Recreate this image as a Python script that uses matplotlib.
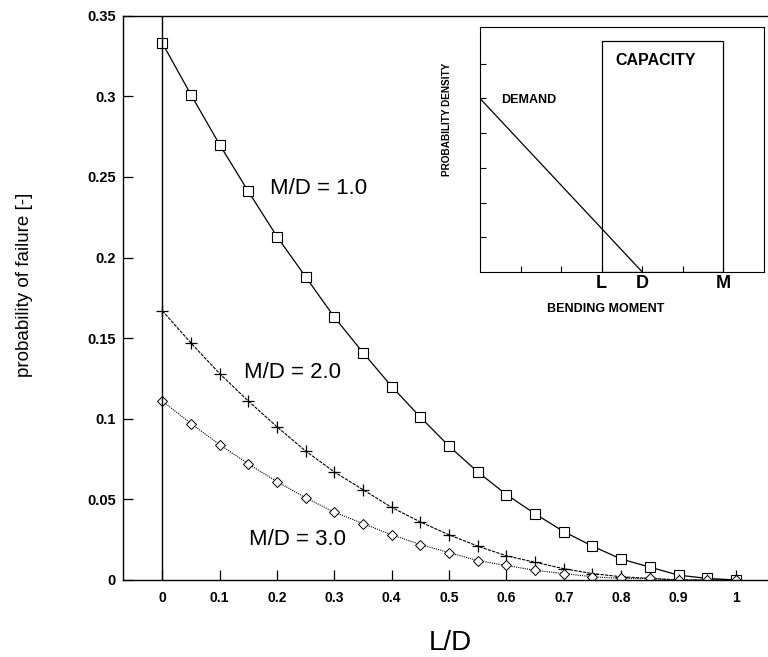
import matplotlib
matplotlib.use("Agg")
import matplotlib.pyplot as plt
from matplotlib.patches import Rectangle

plt.rcParams['font.family'] = ['Liberation Sans', 'DejaVu Sans']

# ---- data ----
ld = [0.0, 0.05, 0.1, 0.15, 0.2, 0.25, 0.3, 0.35, 0.4, 0.45, 0.5,
      0.55, 0.6, 0.65, 0.7, 0.75, 0.8, 0.85, 0.9, 0.95, 1.0]
pf_md1 = [0.333, 0.301, 0.270, 0.241, 0.213, 0.188, 0.163, 0.141, 0.120, 0.101, 0.083,
          0.067, 0.053, 0.041, 0.030, 0.021, 0.013, 0.008, 0.003, 0.001, 0.000]
pf_md2 = [0.167, 0.147, 0.128, 0.111, 0.095, 0.080, 0.067, 0.056, 0.045, 0.036, 0.028,
          0.021, 0.015, 0.011, 0.007, 0.004, 0.002, 0.001, 0.000, 0.000, 0.000]
pf_md3 = [0.111, 0.097, 0.084, 0.072, 0.061, 0.051, 0.042, 0.035, 0.028, 0.022, 0.017,
          0.012, 0.009, 0.006, 0.004, 0.002, 0.001, 0.001, 0.000, 0.000, 0.000]
series_labels = ["M/D = 1.0", "M/D = 2.0", "M/D = 3.0"]
label_pos = [(0.272, 0.243), (0.227, 0.129), (0.236, 0.025)]

xticks = [0, 0.1, 0.2, 0.3, 0.4, 0.5, 0.6, 0.7, 0.8, 0.9, 1]
xticklabels = ["0", "0.1", "0.2", "0.3", "0.4", "0.5", "0.6", "0.7", "0.8", "0.9", "1"]
yticks = [0, 0.05, 0.1, 0.15, 0.2, 0.25, 0.3, 0.35]
yticklabels = ["0", "0.05", "0.1", "0.15", "0.2", "0.25", "0.3", "0.35"]

# inset schematic
demand_x = [0, 4]
demand_y = [5, 0]
cap_left, cap_right, cap_height = 3, 6, 6.65
inset_ticks = [1, 2, 3, 4, 5, 6]
inset_ticklabels = ["", "", "L", "D", "", "M"]

fig = plt.figure(figsize=(7.68, 6.57), dpi=100)
ax = fig.add_axes([0.1602, 0.1172, 0.8398, 0.8588])

ax.plot(ld, pf_md1, '-', color='black', lw=0.9, marker='s', ms=6.5, mfc='white', mec='black', mew=0.8)
ax.plot(ld, pf_md2, linestyle=(0, (3, 1)), color='black', lw=0.8, marker='+', ms=8, mew=0.9)
ax.plot(ld, pf_md3, linestyle=(0, (1, 1)), color='black', lw=0.8, marker='D', ms=5, mfc='white', mec='black', mew=0.7)
ax.axvline(0, color='black', lw=1.0)

for txt, (tx, ty) in zip(series_labels, label_pos):
    ax.text(tx, ty, txt, fontsize=16, ha='center', va='center')

ax.set_xlim(-0.0685, 1.056)
ax.set_ylim(0, 0.35)
ax.set_xticks(xticks)
ax.set_xticklabels(xticklabels, fontweight='bold', fontsize=10)
ax.set_yticks(yticks)
ax.set_yticklabels(yticklabels, fontweight='bold', fontsize=10.5)
ax.tick_params(direction='in', length=7, width=0.9)
ax.tick_params(axis='x', pad=8)
ax.tick_params(axis='y', pad=5)
ax.spines['right'].set_visible(False)
for s in ['left', 'bottom', 'top']:
    ax.spines[s].set_linewidth(1.0)

ax.text(0.508, -0.112, "L/D", fontsize=20, ha='center', va='center', transform=ax.transAxes)
ax.text(-0.152, 0.523, "probability of failure [-]", fontsize=13.5, ha='center', va='center',
        rotation=90, transform=ax.transAxes)

# inset
ins = fig.add_axes([0.625, 0.586, 0.3698, 0.3729])
ins.plot(demand_x, demand_y, color='black', lw=0.9)
ins.add_patch(Rectangle((cap_left, 0), cap_right - cap_left, cap_height,
                        fill=False, edgecolor='black', lw=0.9))
ins.set_xlim(0, 7)
ins.set_ylim(0, 7.06)
ins.set_xticks(inset_ticks)
ins.set_xticklabels(inset_ticklabels, fontsize=13, fontweight='bold')
ins.set_yticks([1, 2, 3, 4, 5, 6])
ins.set_yticklabels([])
ins.tick_params(direction='in', length=4, width=0.8, pad=2)
ins.text(0.53, 4.96, "DEMAND", fontsize=9, fontweight='bold', va='center', ha='left')
ins.text(3.33, 6.1, "CAPACITY", fontsize=11.5, fontweight='bold', va='center', ha='left')
fig.text(606 / 768, 1 - 309 / 657, "BENDING MOMENT", fontsize=9, fontweight='bold',
         ha='center', va='center')
fig.text(447 / 768, 1 - 119 / 657, "PROBABILITY DENSITY", fontsize=7.2, fontweight='bold',
         ha='center', va='center', rotation=90)

fig.savefig("out.png", dpi=100)
